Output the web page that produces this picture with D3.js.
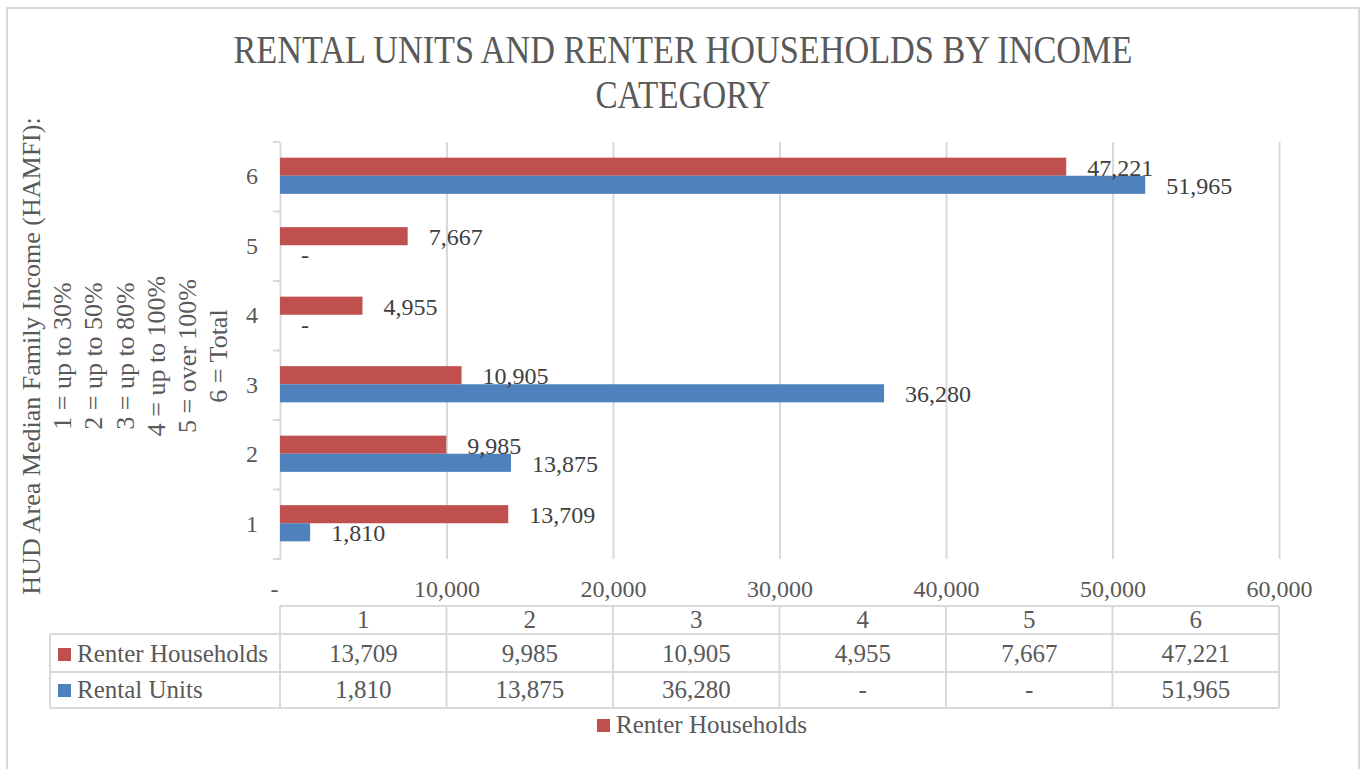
<!DOCTYPE html>
<html>
<head>
<meta charset="utf-8">
<script src="https://cdn.jsdelivr.net/npm/d3@7"></script>
<style>
  body { margin: 0; background: #fff; }
  svg { font-family: "Liberation Serif", "Times New Roman", serif; }
</style>
</head>
<body>
<script>
// data
const categories = [1, 2, 3, 4, 5, 6]
const renterHouseholds = [13709, 9985, 10905, 4955, 7667, 47221]
const rentalUnits = [1810, 13875, 36280, 0, 0, 51965]
const seriesNames = ["Renter Households", "Rental Units"]
const seriesColors = ["#C0504D", "#4F81BD"]
const xTicks = [0, 10000, 20000, 30000, 40000, 50000, 60000]
const titleLines = ["RENTAL UNITS AND RENTER HOUSEHOLDS BY INCOME", "CATEGORY"]
const yTitleLines = [
    "HUD Area Median Family Income (HAMFI):",
    "1 = up to 30%",
    "2 = up to 50%",
    "3 = up to 80%",
    "4 = up to 100%",
    "5 = over 100%",
    "6 = Total"
]

const width = 1363
const height = 769
const gridColor = "#d9d9d9"
const textColor = "#595959"

const fmt = v => v === 0 ? "-" : d3.format(",")(v)

const seriesValues = [renterHouseholds, rentalUnits]
const rows = []
categories.forEach((c, i) => {
    seriesNames.forEach((s, j) => {
        rows.push({cat: c, series: s, value: seriesValues[j][i], color: seriesColors[j]})
    })
})

let svg = d3.select("body").append("svg")
    .attr("width", width)
    .attr("height", height)

// outer frame
svg.append("rect")
    .attr("x", 7).attr("y", 8)
    .attr("width", 1352).attr("height", 800)
    .attr("fill", "none")
    .attr("stroke", gridColor)
    .attr("stroke-width", 2)

// title
const titleWidths = [899, 175]
svg.selectAll(".title")
    .data(titleLines)
    .enter().append("text")
        .attr("class", "title")
        .attr("x", 683)
        .attr("y", (d, i) => 63 + i * 45)
        .attr("text-anchor", "middle")
        .attr("font-size", 41)
        .attr("fill", textColor)
        .attr("textLength", (d, i) => titleWidths[i])
        .attr("lengthAdjust", "spacingAndGlyphs")
        .text(d => d)

const xScale = d3.scaleLinear()
    .domain([0, 60000])
    .range([280, 1279])

const yScale = d3.scaleBand()
    .domain(categories.slice().reverse())
    .range([142, 559])
    .padding(0)

const inner = d3.scaleBand()
    .domain(seriesNames)
    .range([0, yScale.bandwidth()])
    .paddingInner(0)
    .paddingOuter(0.92)

// gridlines
let grid = svg.append("g")
    .attr("transform", "translate(0, 559)")
    .call(d3.axisBottom(xScale).tickValues(xTicks.slice(1)).tickSize(-(559 - 142)).tickFormat(""))
grid.select(".domain").remove()
grid.selectAll("line").attr("stroke", gridColor).attr("stroke-width", 2)

// x tick labels
let xAxis = svg.append("g")
    .attr("transform", "translate(0, 559)")
    .call(d3.axisBottom(xScale).tickValues(xTicks).tickFormat(fmt).tickSize(0))
xAxis.select(".domain").remove()
xAxis.selectAll("text")
    .attr("dy", null)
    .attr("y", 38)
    .attr("x", d => d === 0 ? -6 : 0)
    .attr("font-size", 24)
    .attr("font-family", "Liberation Serif, serif")
    .attr("fill", textColor)

// category axis
let yAxis = svg.append("g")
    .attr("transform", "translate(280, 0)")
    .call(d3.axisLeft(yScale).tickSize(0).tickSizeOuter(0).tickPadding(22))
yAxis.select(".domain").attr("stroke", gridColor).attr("stroke-width", 2)
yAxis.selectAll("text")
    .attr("font-size", 24)
    .attr("font-family", "Liberation Serif, serif")
    .attr("fill", textColor)

// tick marks between categories
const boundaries = categories.map(c => yScale(c)).concat([yScale.range()[1]])
svg.append("g").selectAll("line")
    .data(boundaries)
    .enter().append("line")
        .attr("x1", 273).attr("x2", 280)
        .attr("y1", d => d).attr("y2", d => d)
        .attr("stroke", gridColor)
        .attr("stroke-width", 2)

// bars
svg.append("g").selectAll("rect")
    .data(rows)
    .enter().append("rect")
        .attr("x", xScale(0))
        .attr("y", d => yScale(d.cat) + inner(d.series) - 1)
        .attr("width", d => xScale(d.value) - xScale(0))
        .attr("height", inner.bandwidth())
        .attr("fill", d => d.color)

// bar labels
svg.append("g").selectAll("text")
    .data(rows)
    .enter().append("text")
        .attr("x", d => xScale(d.value) + 21)
        .attr("y", d => yScale(d.cat) + inner(d.series) + inner.bandwidth() / 2 + 8)
        .attr("font-size", 24)
        .attr("fill", "#404040")
        .text(d => fmt(d.value))

// y axis title
let yTitle = svg.append("g")
    .attr("transform", "translate(0, 356) rotate(-90)")
yTitle.selectAll("text")
    .data(yTitleLines)
    .enter().append("text")
        .attr("x", 0)
        .attr("y", (d, i) => 40 + i * 31.2)
        .attr("text-anchor", "middle")
        .attr("font-size", 26)
        .attr("fill", textColor)
        .text(d => d)

// data table
const colScale = d3.scaleBand()
    .domain(categories)
    .range([280, 1279])
const rowY = [606, 634, 672, 708]
let table = svg.append("g")

// horizontal lines
table.append("line").attr("x1", 280).attr("x2", 1279).attr("y1", rowY[0]).attr("y2", rowY[0])
table.selectAll(".hl")
    .data(rowY.slice(1))
    .enter().append("line")
        .attr("class", "hl")
        .attr("x1", 50).attr("x2", 1279)
        .attr("y1", d => d).attr("y2", d => d)
// vertical lines
table.append("line").attr("x1", 50).attr("x2", 50).attr("y1", rowY[1]).attr("y2", rowY[3])
table.selectAll(".vl")
    .data(categories.map(c => colScale(c)).concat([colScale.range()[1]]))
    .enter().append("line")
        .attr("class", "vl")
        .attr("x1", d => d).attr("x2", d => d)
        .attr("y1", rowY[0]).attr("y2", rowY[3])
table.selectAll("line").attr("stroke", gridColor).attr("stroke-width", 2)

// header
table.selectAll(".hdr")
    .data(categories)
    .enter().append("text")
        .attr("class", "hdr")
        .attr("x", d => colScale(d) + colScale.bandwidth() / 2)
        .attr("y", 628)
        .attr("text-anchor", "middle")
        .attr("font-size", 25)
        .attr("fill", textColor)
        .text(d => d)

const rowBaselines = [662, 698]
seriesNames.forEach((s, j) => {
    table.append("rect")
        .attr("x", 58).attr("y", rowBaselines[j] - 14)
        .attr("width", 13).attr("height", 13)
        .attr("fill", seriesColors[j])
    table.append("text")
        .attr("x", 77).attr("y", rowBaselines[j])
        .attr("font-size", 25)
        .attr("fill", textColor)
        .text(s)
    table.selectAll(".cell" + j)
        .data(seriesValues[j])
        .enter().append("text")
            .attr("x", (d, i) => colScale(categories[i]) + colScale.bandwidth() / 2)
            .attr("y", rowBaselines[j])
            .attr("text-anchor", "middle")
            .attr("font-size", 25)
            .attr("fill", textColor)
            .text(d => fmt(d))
})

// legend (only the first series is visible)
let legend = svg.append("g").attr("transform", "translate(597, 719)")
legend.append("rect")
    .attr("width", 13).attr("height", 13)
    .attr("fill", seriesColors[0])
legend.append("text")
    .attr("x", 19).attr("y", 14)
    .attr("font-size", 25)
    .attr("fill", textColor)
    .text(seriesNames[0])
</script>
</body>
</html>
